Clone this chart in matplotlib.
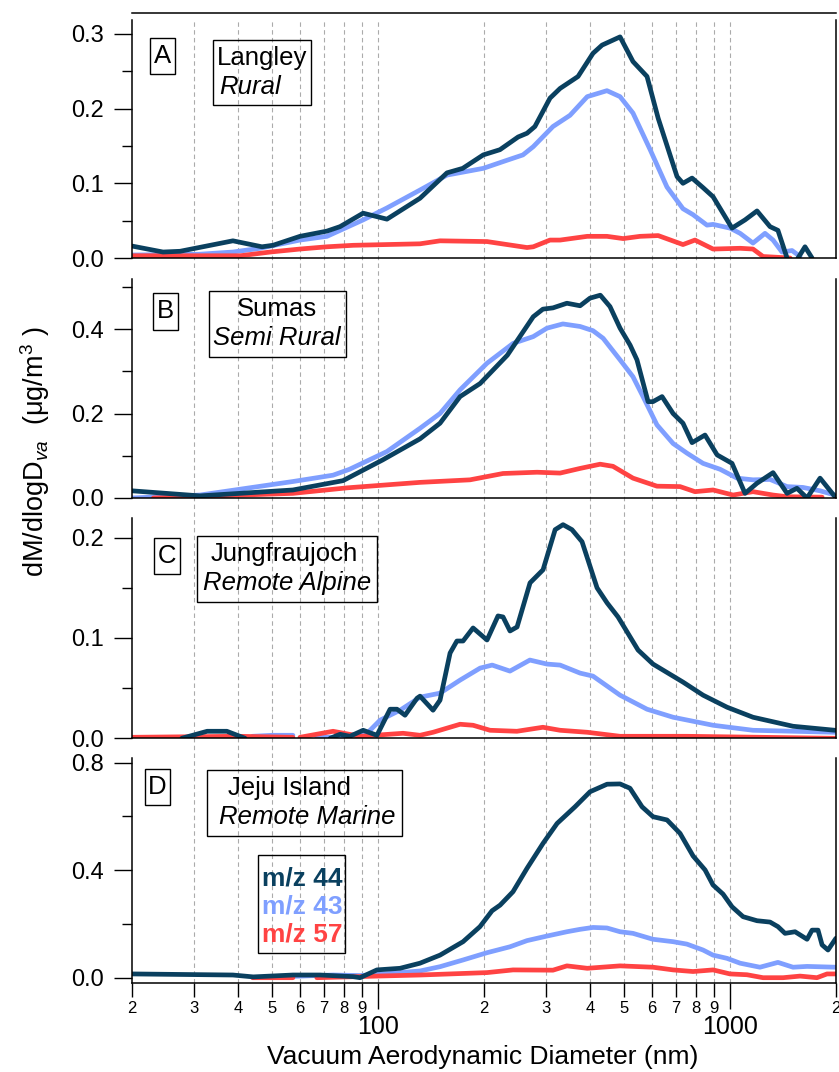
import numpy as np
import matplotlib
matplotlib.use("Agg")
import matplotlib.pyplot as plt
from matplotlib.patches import Rectangle
from matplotlib.ticker import MultipleLocator, FixedLocator, FixedFormatter, FormatStrFormatter

plt.rcParams['font.family'] = ['Liberation Sans', 'DejaVu Sans']
plt.rcParams['mathtext.fontset'] = 'custom'
plt.rcParams['mathtext.rm'] = 'Liberation Sans'
plt.rcParams['mathtext.it'] = 'Liberation Sans:italic'

nan = np.nan

# ---- data (diameter in nm, dM/dlogDva in ug/m3) ----
# panel A : Langley
a44_x = [20, 24.5, 27.4, 38.7, 46.8, 50.3, 60, 71.6, 78, 90.7, 106, 131.6, 157, 174, 199, 222, 250, 265,
         279, 308, 329, 370, 408, 433, 487, 530, 581, 625, 707, 735, 780, 839, 895, 1013, 1103, 1193, 1299,
         1368, 1452, 1500, 1530, 1560, 1633, 1710]
a44_y = [.016, .008, .009, .023, .015, .017, .029, .036, .042, .060, .052, .080, .114, .120, .138, .145, .162, .167,
         .176, .214, .227, .243, .274, .285, .296, .263, .243, .187, .109, .100, .107, .094, .082, .040, .051, .063, .042,
         .037, .0, -.02, -.02, .0, .015, .0]
a43_x = [20, 31, 38.7, 46.2, 60, 71.6, 90.7, 106, 131.6, 157, 199, 233, 258, 276, 314, 351, 393, 447, 487, 530,
         593, 662, 735, 785, 860, 895, 1000, 1068, 1162, 1257, 1325, 1405, 1500, 1581]
a43_y = [.004, .005, .008, .013, .024, .029, .051, .067, .091, .111, .120, .131, .138, .149, .176, .191, .216, .224, .216, .194,
         .145, .095, .066, .058, .044, .045, .040, .033, .020, .033, .024, .008, .010, .002]
a57_x = [20, 40.6, 49.4, 60, 71.6, 85, 131.6, 150, 204, 265, 276, 308, 329, 393, 447, 497, 555, 625, 735, 795,
         895, 1068, 1162, 1241, 1481]
a57_y = [.003, .003, .008, .012, .015, .017, .019, .023, .022, .014, .015, .024, .024, .029, .029, .026, .029, .030, .018, .024,
         .012, .013, .012, .002, .0]

# panel B : Sumas
b44_x = [20, 31.2, 57.3, 79.5, 103, 131.6, 150, 171, 195, 233, 276, 294, 314, 344, 375, 400, 428, 456, 487, 520,
         544, 585, 604, 641, 689, 735, 780, 849, 919, 1013, 1103, 1193, 1325, 1452, 1549, 1655, 1802, 1987]
b44_y = [.017, .005, .019, .041, .090, .140, .177, .240, .271, .338, .429, .447, .450, .461, .455, .473, .480, .453, .402, .362,
         .327, .228, .228, .240, .200, .177, .131, .149, .102, .082, .011, .035, .060, .011, .023, .0, .047, .003]
b43_x = [20, 31.2, 57.3, 74.5, 83, 106, 131.6, 150, 171, 204, 242, 276, 302, 335, 375, 408, 436, 487, 530, 566,
         620, 689, 755, 838, 937, 1047, 1162, 1299, 1452, 1611, 1802, 1987]
b43_y = [.0, .007, .039, .054, .068, .110, .165, .200, .256, .319, .366, .382, .402, .412, .406, .396, .378, .327, .287, .240,
         .173, .129, .106, .082, .068, .047, .043, .044, .027, .025, .017, .007]
b57_x = [23, 57.3, 81.6, 131.6, 182.5, 226.5, 283, 329, 375, 427.5, 465, 530, 620, 721, 795, 895, 1020, 1162, 1325,
         1452, 1802, 1826]
b57_y = [.0, .011, .024, .037, .043, .058, .061, .059, .070, .080, .075, .047, .028, .027, .015, .019, .007, .015, .007,
         .003, .002, .002]

# panel C : Jungfraujoch
c44_x = [27.7, 32.7, 37.2, 41.9, nan, 73.1, 78, 83.2, 90.7, 99.3, 108.2, 113.2, 119.3, 129.1, 131.6, 143.3, 150, 160.2,
         167.5, 174.4, 186.2, 204, 219.2, 226.5, 237.1, 248.3, 270.3, 294.3, 318.5, 335.4, 355.6, 379.8, 419, 447.4,
         480.6, 547.9, 604.3, 735.4, 838.3, 980.6, 1162, 1510, 1987]
c44_y = [0, .007, .007, 0, nan, 0, .004, .002, .008, .003, .029, .029, .023, .040, .042, .028, .038, .085,
         .097, .097, .110, .098, .122, .121, .107, .111, .155, .168, .208, .213, .208, .196, .150, .135,
         .121, .088, .074, .056, .043, .031, .021, .012, .008]
c43_x = [44, 50, 57.3, nan, 67, 74.5, 93.1, 101.3, 115.5, 131.6, 150, 171, 195, 211, 237, 270, 302, 329, 375, 408,
         487, 581, 689, 895, 1162, 1987]
c43_y = [.002, .003, .003, nan, .001, .001, .005, .018, .028, .041, .045, .058, .070, .073, .067, .078, .074, .073, .065, .062,
         .043, .029, .021, .013, .008, .006]
c57_x = [20, 40, 57.3, nan, 60, 74.5, 88.9, 117.8, 131.6, 143.3, 171, 186.2, 208, 248, 294, 329, 393, 487, 755, 1987]
c57_y = [.001, .002, .001, nan, .001, .007, .002, .005, .003, .006, .014, .013, .008, .007, .011, .008, .006, .002, .002, .0]

# panel D : Jeju Island
d44_x = [20, 38.7, 44.2, 57.3, 68.4, 84.9, 88.9, 99.3, 115.5, 131.6, 150, 174.4, 194.8, 210.8, 222.2, 241.8, 265,
         294.3, 322.6, 362.8, 400.3, 447.4, 486.9, 519.7, 562.3, 604.3, 662.2, 721.1, 785.2, 849.3, 894.6, 955.3,
         1013, 1089, 1193, 1299, 1368, 1433, 1530, 1655, 1710, 1778, 1826, 1898, 2000]
d44_y = [.014, .010, .003, .010, .010, .004, .0, .029, .035, .054, .084, .134, .190, .249, .270, .320, .407,
         .500, .574, .636, .692, .720, .721, .705, .636, .599, .587, .537, .453, .401, .345, .311,
         .264, .227, .212, .207, .190, .165, .171, .143, .177, .177, .122, .103, .147]
d43_x = [57.3, 74.5, 88.9, 99.3, 131.6, 150, 174.4, 204, 237, 265, 302, 344, 375, 408, 447, 487, 530, 604, 689,
         754, 838, 894.6, 980.6, 1068, 1216, 1368, 1510, 1655, 2000]
d43_y = [.005, .010, .008, .012, .025, .041, .066, .093, .115, .138, .155, .171, .180, .187, .185, .171, .165, .143, .134,
         .125, .103, .084, .072, .054, .039, .057, .039, .042, .039]
d57_x = [44, 57.3, nan, 67, 99.3, 131.6, 204, 241.8, 314, 344, 393, 487, 604, 689, 785, 895, 1000, 1117, 1241,
         1415, 1581, 1766, 1886, 2000]
d57_y = [0, 0, nan, 0, .006, .010, .019, .029, .028, .044, .035, .044, .039, .029, .023, .029, .014, .011, .0,
         .0, .006, .0, .014, .014]

panels = [
    ("A", "Langley", "Rural", (a44_x, a44_y), (a43_x, a43_y), (a57_x, a57_y)),
    ("B", "Sumas", "Semi Rural", (b44_x, b44_y), (b43_x, b43_y), (b57_x, b57_y)),
    ("C", "Jungfraujoch", "Remote Alpine", (c44_x, c44_y), (c43_x, c43_y), (c57_x, c57_y)),
    ("D", "Jeju Island", "Remote Marine", (d44_x, d44_y), (d43_x, d43_y), (d57_x, d57_y)),
]
series_labels = ["m/z 44", "m/z 43", "m/z 57"]
colors = ["#0a405f", "#7f9fff", "#ff4343"]

W, H = 839, 1072
fig = plt.figure(figsize=(W / 100, H / 100), dpi=100)

def fx(px):
    return px / W

def fy(py):
    return 1 - py / H

x0, x1 = 132, 836

# background axes carrying the dashed vertical grid through all panels
bg = fig.add_axes([fx(x0), fy(983), fx(x1) - fx(x0), fy(20) - fy(983)])
bg.set_xscale("log")
bg.set_xlim(20, 2000)
bg.set_ylim(0, 1)
grid_vals = [v * m for m in (10, 100, 1000) for v in range(1, 10)]
grid_vals = [g for g in grid_vals if 20 < g < 2000]
for g in grid_vals:
    bg.axvline(g, color="#ababab", lw=0.8, ls=(0, (4, 3)))
bg.axis("off")

# panel layout: (top px, zero px, bottom px, spine top value, major, minor)
layout = [
    (13, 258, 258, 0.3186, 0.1, 0.05),
    (279, 498, 498, None, 0.2, 0.1),
    (518, 738.3, 738.3, None, 0.1, 0.05),
    (758, 977.7, 983, None, 0.4, 0.2),
]
ppv = [747, 422.5, 1003, 268.75]  # pixels per unit value

for i, (p, lay) in enumerate(zip(panels, layout)):
    top, zero, bot, sp_top, major, minor = lay
    ax = fig.add_axes([fx(x0), fy(bot), fx(x1) - fx(x0), fy(top) - fy(bot)])
    ax.patch.set_alpha(0)
    ax.set_xscale("log")
    ax.set_xlim(20, 2000)
    ax.set_ylim(-(bot - zero) / ppv[i], (zero - top) / ppv[i])
    letter, site, kind, s44, s43, s57 = p
    for (xs, ys), c in zip([s43, s57, s44], [colors[1], colors[2], colors[0]]):
        ax.plot(xs, ys, color=c, lw=3.4, solid_joinstyle="round", solid_capstyle="round")
    ax.yaxis.set_major_locator(MultipleLocator(major))
    ax.yaxis.set_minor_locator(MultipleLocator(minor))
    ax.yaxis.set_major_formatter(FormatStrFormatter("%.1f"))
    ax.tick_params(axis="y", which="major", length=13, width=1, labelsize=17, pad=7, direction="out")
    ax.tick_params(axis="y", which="minor", length=7, width=1, direction="out")
    for s in ["left", "right", "bottom", "top"]:
        ax.spines[s].set_linewidth(1.1)
    ax.spines["top"].set_visible(i == 0)
    if i == 0:
        ax.spines["left"].set_bounds(0, sp_top)
        ax.spines["right"].set_bounds(0, sp_top)
    if i < 3:
        ax.tick_params(axis="x", which="both", bottom=False, labelbottom=False)
    else:
        ax.xaxis.set_major_locator(FixedLocator([100, 1000]))
        ax.xaxis.set_major_formatter(FixedFormatter(["100", "1000"]))
        minors = [v * m for m in (10, 100, 1000) for v in range(2, 10)]
        minors = [m for m in minors if 20 <= m <= 2000]
        ax.xaxis.set_minor_locator(FixedLocator(minors))
        ax.xaxis.set_minor_formatter(FixedFormatter([str(m)[0] for m in minors]))
        ax.tick_params(axis="x", which="major", length=19, width=1, labelsize=18, pad=4)
        ax.tick_params(axis="x", which="minor", length=10, width=1, labelsize=12, pad=3)

# boxed annotations (pixel coordinates of box: left, top, right, bottom)
def box(l, t, r, b):
    fig.add_artist(Rectangle((fx(l), fy(b)), fx(r) - fx(l), fy(t) - fy(b), transform=fig.transFigure,
                             fill=False, ec="black", lw=1.0))

letter_boxes = [(150, 38, 175, 74), (153, 293, 178, 330), (154, 538, 180, 574), (145, 769, 170, 805)]
site_boxes = [(213, 40, 311, 105), (209, 291, 346, 357), (197, 536, 377, 602), (207, 770, 402, 836)]
site_x = [(262, 250), (277, 277), (284, 287), (289, 307)]
for p, lb, sb, sx in zip(panels, letter_boxes, site_boxes, site_x):
    letter, site, kind = p[0], p[1], p[2]
    box(*lb)
    fig.text(fx((lb[0] + lb[2]) / 2), fy((lb[1] + lb[3]) / 2), letter, ha="center", va="center", fontsize=18.5)
    box(*sb)
    fig.text(fx(sx[0]), fy(sb[1] + 18), site, ha="center", va="center", fontsize=18.5)
    fig.text(fx(sx[1]), fy(sb[1] + 47), kind, ha="center", va="center", fontsize=18.5, style="italic")

# legend in panel D
box(258, 855, 345, 953)
for k, (lab, c) in enumerate(zip(series_labels, colors)):
    fig.text(fx(302), fy(878 + k * 28.5), lab, ha="center", va="center", fontsize=19, fontweight="bold", color=c)

fig.text(fx(35), fy(452), r"dM/dlogD$_{va}$  ($\mathregular{\mu}$g/m$^{3}$ )", rotation=90, ha="center",
         va="center", fontsize=19.5)
fig.text(fx(483), fy(1057), "Vacuum Aerodynamic Diameter (nm)", ha="center", va="center", fontsize=19)

fig.savefig("out.png", dpi=100)
